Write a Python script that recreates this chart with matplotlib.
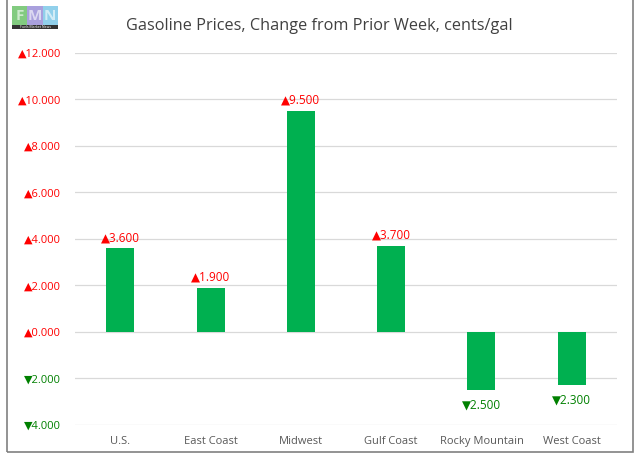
import numpy as np
import matplotlib.pyplot as plt
from matplotlib.patches import Rectangle
from matplotlib.ticker import FuncFormatter

regions = ['U.S.', 'East Coast', 'Midwest', 'Gulf Coast', 'Rocky Mountain', 'West Coast']
changes = [3.6, 1.9, 9.5, 3.7, -2.5, -2.3]
y_ticks = [-4, -2, 0, 2, 4, 6, 8, 10, 12]

up_color = '#FF0000'
down_color = '#008000'
bar_color = '#00B050'

plt.rcParams['font.family'] = ['Open Sans', 'DejaVu Sans']

fig = plt.figure(figsize=(6.38, 4.68), dpi=100)
ax = fig.add_axes([0.1176, 0.0919, 0.8494, 0.7949])

x = np.arange(len(regions))
bars = ax.bar(x, changes, width=0.31, color=bar_color, zorder=3)

ax.set_xlim(-0.5, len(regions) - 0.5)
ax.set_ylim(-4, 12)
ax.set_yticks(y_ticks)
ax.yaxis.set_major_formatter(FuncFormatter(
    lambda v, p: ('\u25b2' if v >= 0 else '\u25bc') + '%.3f' % abs(v)))
for lab, v in zip(ax.get_yticklabels(), y_ticks):
    lab.set_color(up_color if v >= 0 else down_color)
ax.set_xticks(x)
ax.set_xticklabels(regions)
ax.tick_params(axis='y', length=0, pad=10, labelsize=8)
ax.tick_params(axis='x', length=0, pad=8, labelsize=8, labelcolor='#595959')
ax.grid(axis='y', color='#D9D9D9', linewidth=0.9, zorder=0)
for s in ax.spines.values():
    s.set_visible(False)

# data labels
for b, v in zip(bars, changes):
    cx = b.get_x() + b.get_width() / 2
    if v >= 0:
        ax.annotate('\u25b2%.3f' % v, (cx, v), xytext=(0, 3), textcoords='offset points',
                    ha='center', va='bottom', color=up_color, fontsize=8.5)
    else:
        ax.annotate('\u25bc%.3f' % abs(v), (cx, v), xytext=(0, -6), textcoords='offset points',
                    ha='center', va='top', color=down_color, fontsize=8.5)

fig.text(0.5, 0.945, 'Gasoline Prices, Change from Prior Week, cents/gal',
         ha='center', va='center', fontsize=11.7, color='#404040')

# outer frame
fig.patches.append(Rectangle((7 / 638, 1 - 452 / 468), 626 / 638, 1.2, transform=fig.transFigure,
                             fill=False, edgecolor='#808080', linewidth=1.2))

# logo
logo_cols = ['#6CC26A', '#9A8FD8', '#7EC8E8']
for i, (c, letter) in enumerate(zip(logo_cols, 'FMN')):
    x0 = (12 + i * 15.3) / 638
    fig.patches.append(Rectangle((x0, 1 - 25 / 468), 15.3 / 638, 19 / 468, transform=fig.transFigure,
                                 facecolor=c, edgecolor='none', alpha=0.85))
    fig.text(x0 + 7.6 / 638, 1 - 15.5 / 468, letter, ha='center', va='center',
             fontsize=11, fontweight='bold', color='white', alpha=0.6)
fig.patches.append(Rectangle((12 / 638, 1 - 29 / 468), 46 / 638, 4 / 468, transform=fig.transFigure,
                             facecolor='#333333', edgecolor='none'))
fig.text(35 / 638, 1 - 27 / 468, 'Fuels Market News', ha='center', va='center',
         fontsize=2.5, color='white')

fig.savefig('out.png', dpi=100)
